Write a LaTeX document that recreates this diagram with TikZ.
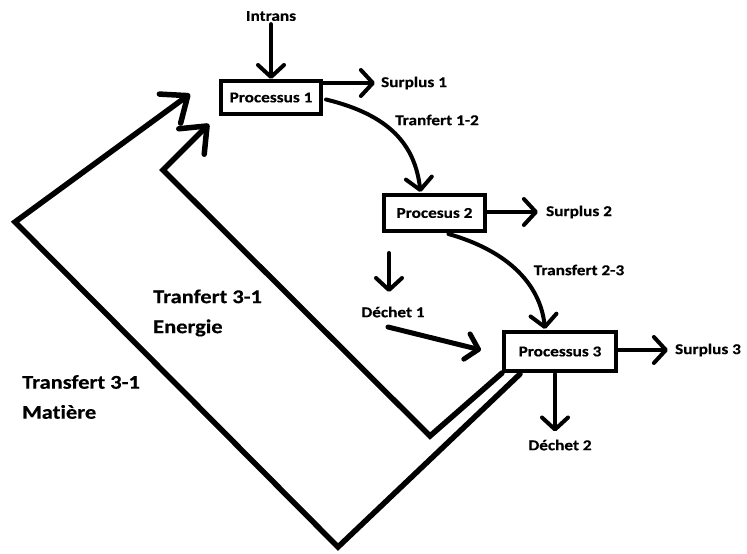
\documentclass[tikz,border=0pt]{standalone}
\usepackage{fontspec}
\setmainfont{Carlito}[FakeStretch=1.15,Ligatures=NoCommon,BoldFeatures={FakeBold=0.4}]
\usetikzlibrary{arrows.meta,calc}
\begin{document}
\begin{tikzpicture}[x=1pt,y=-1pt,
  box/.style={draw,line width=4pt,minimum width=#1,inner sep=0pt,font=\fontsize{15}{17}\selectfont\bfseries},
  lbl/.style={inner sep=3pt,font=\fontsize{15}{17}\selectfont\bfseries},
  biglbl/.style={inner sep=0pt,anchor=west,align=left,font=\fontsize{19.5}{30}\selectfont\bfseries},
  arr/.style={line width=4pt,line cap=round,line join=round,-{Straight Barb[length=12pt,width=26pt,line cap=round,line join=round]}},
  loop/.style={line width=5.5pt,line cap=round,line join=miter,-{Straight Barb[length=22pt,width=36pt,line cap=round,line join=round]}}]
\useasboundingbox[fill=white] (0,0) rectangle (747,554);
% boxes
\node[box=100pt,minimum height=33pt] (p1) at (271,97.5) {Processus 1};
\node[box=101pt,minimum height=36pt] (p2) at (434.5,213) {Procesus 2};
\node[box=112pt,minimum height=39pt] (p3) at (560,351.5) {Processus 3};
% labels
\node[lbl] (in) at (271,16) {Intrans};
\node[lbl,inner sep=6pt] (s1) at (414,83) {Surplus 1};
\node[lbl] (t12) at (437,120) {Tranfert 1-2};
\node[lbl,inner sep=8pt] (s2) at (579,212) {Surplus 2};
\node[lbl] (t23) at (579,270) {Transfert 2-3};
\node[lbl] (d1) at (393,312) {Déchet 1};
\node[lbl,inner sep=7pt] (s3) at (708,350) {Surplus 3};
\node[lbl,inner sep=8pt] (d2) at (560,445) {Déchet 2};
\node[biglbl] (le) at (153,313) {Tranfert 3-1\\Energie};
\node[biglbl] (lm) at (22,397) {Transfert 3-1\\Matière};
% coordinates
\coordinate (d1top) at (389,253);
\coordinate (d1end) at (389,292);
\coordinate (d1s) at (388,327);
\coordinate (p3in) at (481,350);
\coordinate (d2top) at (555,374);
\coordinate (e1) at (430,436);
\coordinate (e2) at (163,170);
\coordinate (e3) at (209,124);
\coordinate (m0) at (520,374);
\coordinate (m1) at (338,547);
\coordinate (m2) at (15,222);
\coordinate (m3) at (190,94);
% connectors
\draw[arr] (in.south) -- (p1.north);
\draw[arr] (p1.east |- s1) -- (s1.west);
\draw[arr] (p2.east |- s2) -- (s2.west);
\draw[arr] (p3.east |- s3) -- (s3.west);
\draw[arr] ($(p1.east)+(3,2)$) .. controls (390,115) and (415,145) .. ($(p2.north)+(-14,-1)$);
\draw[arr] ($(p2.south)+(14,1)$) .. controls (505,250) and (540,282) .. ($(p3.north)+(-15,-1)$);
\draw[arr] (d1top) -- (d1end);
\draw[arr,line width=5pt] (d1s) -- (p3in);
\draw[arr] (d2top) -- (d2top |- d2.north);
\draw[loop] (p3.south west) -- (e1) -- (e2) -- (e3);
\draw[loop] (m0) -- (m1) -- (m2) -- (m3);
\end{tikzpicture}
\end{document}
